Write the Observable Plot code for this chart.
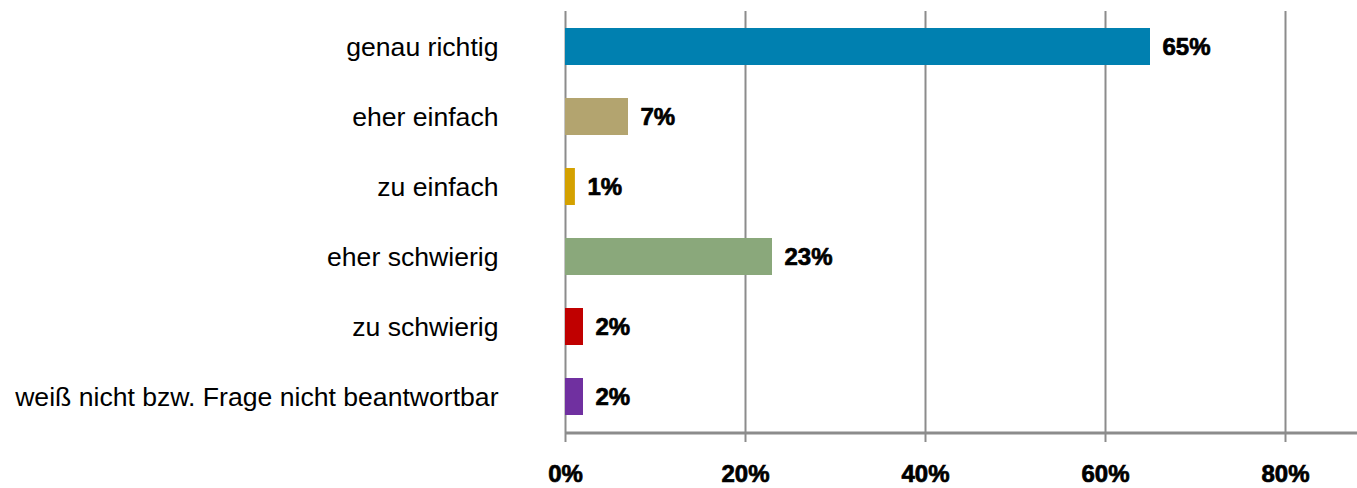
<!DOCTYPE html>
<html>
<head>
<meta charset="utf-8">
<script src="https://cdn.jsdelivr.net/npm/d3@7"></script>
<script src="https://cdn.jsdelivr.net/npm/@observablehq/plot@0.6"></script>
<style>
  html, body { margin: 0; padding: 0; background: #fff; }
  svg { font-family: "Liberation Sans", Arial, sans-serif; }
</style>
</head>
<body>
<div id="chart"></div>
<script>
const categories = ["genau richtig", "eher einfach", "zu einfach", "eher schwierig", "zu schwierig", "weiß nicht bzw. Frage nicht beantwortbar"];
const values = [65, 7, 1.1, 23, 2, 2];
const labels = ["65%", "7%", "1%", "23%", "2%", "2%"];
const colors = ["#0080B0", "#B3A46F", "#D4A100", "#8AA87B", "#C00000", "#7030A0"];
const xTicks = [0, 20, 40, 60, 80];

const data = categories.map((c, i) => ({category: c, value: values[i], label: labels[i], color: colors[i]}));

const chart = Plot.plot({
  width: 1357,
  height: 488,
  marginLeft: 565,
  marginRight: 0,
  marginTop: 11,
  marginBottom: 56,
  style: {fontFamily: '"Liberation Sans", Arial, sans-serif', background: "#fff"},
  x: {domain: [0, 88]},
  y: {domain: categories, paddingInner: 0.47, paddingOuter: 0.235},
  marks: [
    Plot.ruleX(xTicks, {stroke: "#8c8c8c", strokeWidth: 2}),
    Plot.barX(data, {x: "value", y: "category", fill: "color"}),
    Plot.text(data, {x: "value", y: "category", text: "label", textAnchor: "start", dx: 12,
      fontSize: 24, fontWeight: "bold", fill: "#000", stroke: "#000", strokeWidth: 0.7}),
    Plot.axisY({tickSize: 0, tickPadding: 67, fontSize: 26.6, color: "#000", label: null}),
    Plot.axisX({ticks: xTicks, tickSize: 10, tickPadding: 22, stroke: "#8c8c8c", strokeWidth: 2,
      tickFormat: d => d + "%", fontSize: 24, fontWeight: "bold", label: null, color: "#000"})
  ]
});

// bottom axis line
const sx = chart.scale("x");
const svg = d3.select(chart);
svg.append("line")
  .attr("x1", sx.apply(0)).attr("x2", sx.apply(88))
  .attr("y1", 433).attr("y2", 433)
  .attr("stroke", "#8c8c8c").attr("stroke-width", 3);
svg.selectAll("g[aria-label='x-axis tick label'] text, g[aria-label='x-axis tick label']")
  .attr("stroke", "#000").attr("stroke-width", 0.7).attr("fill", "#000");
svg.selectAll("g[aria-label='x-axis tick'] path").attr("stroke", "#8c8c8c");
document.getElementById("chart").appendChild(chart);
</script>
</body>
</html>
